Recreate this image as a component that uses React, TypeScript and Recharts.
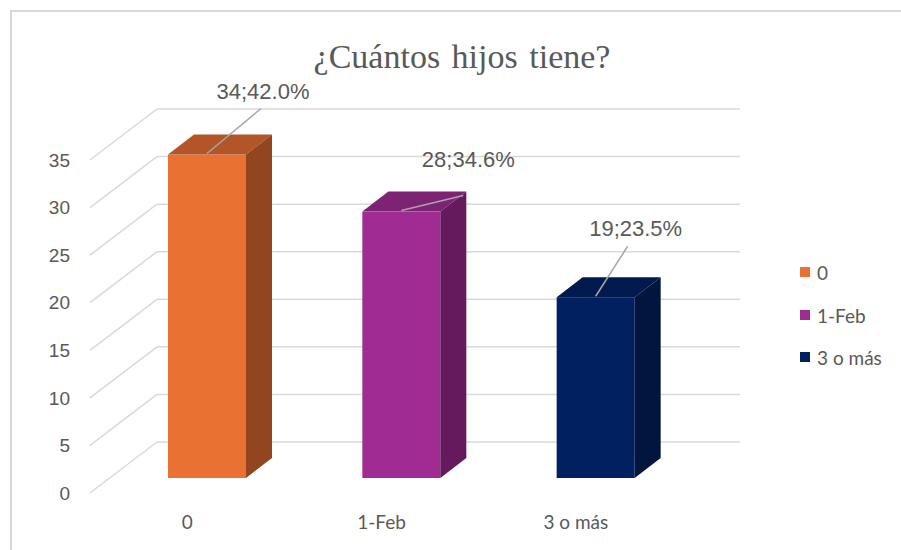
import { BarChart, Bar, XAxis, YAxis, CartesianGrid, LabelList } from 'recharts'

document.body.style.margin = '0'

const categories = ['0', '1-Feb', '3 o más']
const counts = [34, 28, 19]
const percents = [42.0, 34.6, 23.5]
const yTicks = [0, 5, 10, 15, 20, 25, 30, 35]

const frontColors = ['#E97132', '#A02B93', '#002060']
const topColors = ['#B2562A', '#7E2274', '#001A4E']
const sideColors = ['#92451E', '#641A5C', '#00163F']

// fake 3d: offsets of the bar depth, back wall and front edge from the bar front plane
const BAR_DEPTH = { dx: 26, dy: -20 }
const BACK_WALL = { dx: 47, dy: -36 }
const FRONT_EDGE = { dx: -20, dy: 15 }

// data label text centre and leader line end, relative to the bar top centre
const labelPos = [
  { tx: 56, ty: -63, lx: 54, ly: -46 },
  { tx: 67, ty: -52, lx: 62, ly: -16 },
  { tx: 40, ty: -69, lx: 32, ly: -51 },
]

const chartData = categories.map((name, i) => ({ name, count: counts[i], pct: percents[i] }))

const TEXT = '#595959'
const GRID = '#D9D9D9'

const Box3D = (props: any) => {
  const { x, y, width, height, index } = props
  const { dx, dy } = BAR_DEPTH
  return (
    <g>
      <rect x={x} y={y} width={width} height={height} fill={frontColors[index]} />
      <polygon
        points={`${x},${y} ${x + dx},${y + dy} ${x + width + dx},${y + dy} ${x + width},${y}`}
        fill={topColors[index]}
      />
      <polygon
        points={`${x + width},${y} ${x + width + dx},${y + dy} ${x + width + dx},${y + height + dy} ${x + width},${y + height}`}
        fill={sideColors[index]}
      />
    </g>
  )
}

const GridLine = (props: any) => {
  const { x1, y1, x2, index } = props
  const by = y1 + BACK_WALL.dy
  return (
    <g key={`grid-${index}-${y1}`}>
      <line x1={x1 + BACK_WALL.dx} y1={by} x2={x2 + BACK_WALL.dx} y2={by} stroke={GRID} strokeWidth={1.5} />
      <line x1={x1 + BACK_WALL.dx} y1={by} x2={x1 + FRONT_EDGE.dx} y2={y1 + FRONT_EDGE.dy} stroke={GRID} strokeWidth={1.5} />
    </g>
  )
}

const YTick = ({ x, y, payload }: any) => (
  <text x={x + FRONT_EDGE.dx} y={y + FRONT_EDGE.dy} dy="0.35em" textAnchor="end" fill={TEXT}
    style={{ fontFamily: 'Liberation Sans', fontSize: 19 }}>
    {payload.value}
  </text>
)

const XTick = ({ x, y, payload }: any) => (
  <text x={x + FRONT_EDGE.dx} y={y + FRONT_EDGE.dy + 23} dy="0.35em" textAnchor="middle" fill={TEXT}
    style={{ fontFamily: 'Lato', fontSize: 19 }}>
    {payload.value}
  </text>
)

const DataLabel = (props: any) => {
  const { x, y, width, index } = props
  const cx = x + width / 2
  const p = labelPos[index]
  const d = chartData[index]
  return (
    <g>
      <line x1={cx} y1={y - 1} x2={cx + p.lx} y2={y + p.ly} stroke="#A6A6A6" strokeWidth={1.5} />
      <text x={cx + p.tx} y={y + p.ty} dy="0.35em" textAnchor="middle" fill={TEXT}
        style={{ fontFamily: 'Liberation Sans', fontSize: 22 }}>
        {`${d.count};${d.pct.toFixed(1)}%`}
      </text>
    </g>
  )
}

const legendY = [272, 315, 357]

export default function App() {
  return (
    <div style={{ position: 'relative', width: 901, height: 550, overflow: 'hidden', background: '#fff' }}>
      <div style={{ position: 'absolute', left: 10, top: 10, width: 1000, height: 1000, border: `2px solid ${GRID}` }} />
      <div style={{
        position: 'absolute', left: 462, top: 40, transform: 'translateX(-50%)', whiteSpace: 'nowrap',
        fontFamily: 'Liberation Serif', fontSize: 34, lineHeight: '34px', color: TEXT, wordSpacing: 3,
      }}>
        ¿Cuántos hijos tiene?
      </div>
      <div style={{ position: 'absolute', left: 0, top: 0 }}>
        <BarChart width={901} height={550} data={chartData} margin={{ top: 145, right: 208, bottom: 42, left: 50 }}>
          <CartesianGrid vertical={false} horizontal={GridLine} />
          <YAxis domain={[0, 35]} ticks={yTicks} width={60} axisLine={false} tickLine={false}
            tickMargin={14} tick={<YTick />} interval={0} />
          <XAxis dataKey="name" height={30} axisLine={false} tickLine={false} tickMargin={0}
            tick={<XTick />} interval={0} />
          <Bar dataKey="count" barSize={78} shape={<Box3D />} isAnimationActive={false}>
            <LabelList dataKey="count" content={<DataLabel />} />
          </Bar>
        </BarChart>
      </div>
      {categories.map((c, i) => (
        <div key={c} style={{
          position: 'absolute', left: 800, top: legendY[i] - 11, height: 22, display: 'flex', alignItems: 'center',
          fontFamily: 'Lato', fontSize: 19, color: TEXT, whiteSpace: 'nowrap',
        }}>
          <span style={{ width: 10, height: 10, background: frontColors[i], marginRight: 7, display: 'inline-block' }} />
          {c}
        </div>
      ))}
    </div>
  )
}
